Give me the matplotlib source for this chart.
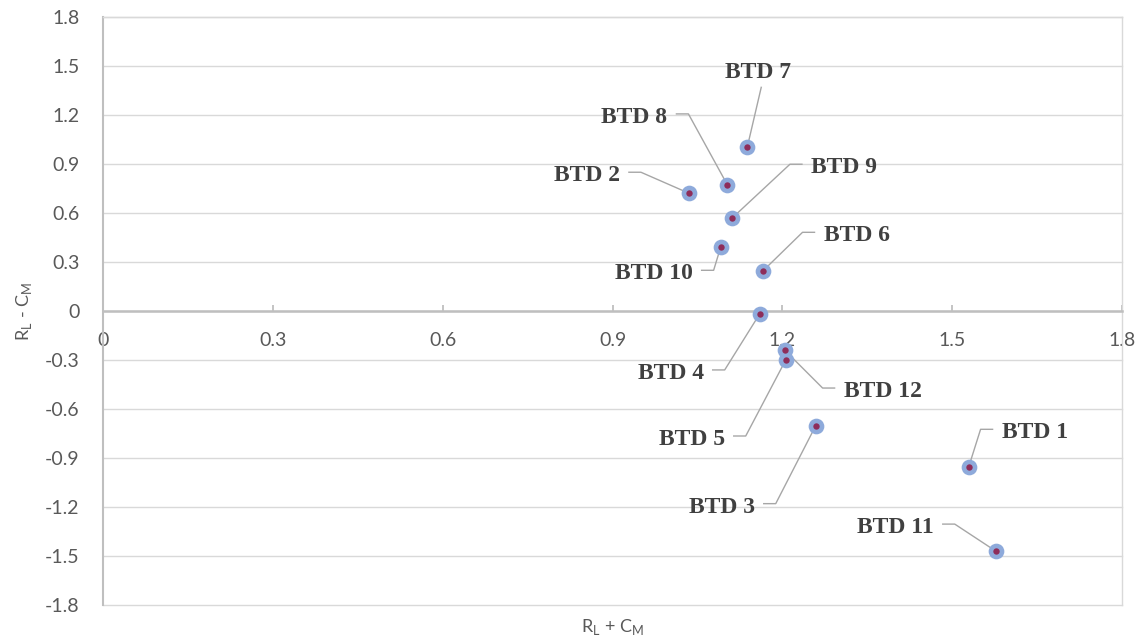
import numpy as np
import matplotlib
matplotlib.use("Agg")
import matplotlib.pyplot as plt
from matplotlib.lines import Line2D
from matplotlib.transforms import IdentityTransform

plt.rcParams['font.family'] = ['Lato', 'DejaVu Sans']
plt.rcParams['mathtext.fontset'] = 'custom'
plt.rcParams['mathtext.rm'] = 'Lato'
plt.rcParams['axes.unicode_minus'] = False

# --- data
names = ["BTD 1", "BTD 2", "BTD 3", "BTD 4", "BTD 5", "BTD 6",
         "BTD 7", "BTD 8", "BTD 9", "BTD 10", "BTD 11", "BTD 12"]
rl_plus_cm = [1.529, 1.035, 1.259, 1.160, 1.206, 1.165,
              1.138, 1.103, 1.111, 1.091, 1.577, 1.204]
rl_minus_cm = [-0.957, 0.721, -0.702, -0.018, -0.300, 0.243,
               1.002, 0.772, 0.568, 0.390, -1.470, -0.239]

x_ticks = [0, 0.3, 0.6, 0.9, 1.2, 1.5, 1.8]
y_ticks = [-1.8, -1.5, -1.2, -0.9, -0.6, -0.3, 0, 0.3, 0.6, 0.9, 1.2, 1.5, 1.8]

# --- label placement: pixel offset of text anchor from point (dx, dy down), alignment
label_pos = [(33, -37, 'left'), (-69, -20, 'right'), (-61, 79, 'right'),
             (-56, 57, 'right'), (-61, 77, 'right'), (61, -38, 'left'),
             (11, -77, 'center'), (-60, -70, 'right'), (79, -53, 'left'),
             (-28, 24, 'right'), (-62, -26, 'right'), (59, 39, 'left')]

grid_col = '#d9d9d9'
axis_col = '#bfbfbf'
text_col = '#595959'
lead_col = '#a6a6a6'

fig = plt.figure(figsize=(11.43, 6.41), dpi=100)
ax = fig.add_axes([103 / 1143, 1 - 605 / 641, (1122 - 103) / 1143, (605 - 17) / 641])

ax.set_xlim(0, 1.8)
ax.set_ylim(-1.8, 1.8)
ax.set_xticks(x_ticks)
ax.set_xticklabels([f"{t:g}" for t in x_ticks])
ax.set_yticks(y_ticks)
ax.set_yticklabels([f"{t:g}" for t in y_ticks])

ax.grid(axis='y', color=grid_col, lw=1)
ax.grid(axis='x', visible=False)
for gl in ax.get_ygridlines():
    gl.set_clip_on(False)
ax.set_axisbelow(True)

ax.spines['bottom'].set_position(('data', 0))
ax.spines['bottom'].set_color(axis_col)
ax.spines['bottom'].set_linewidth(1.8)
ax.spines['left'].set_color(axis_col)
ax.spines['left'].set_linewidth(1.5)
ax.spines['top'].set_color(grid_col)
ax.spines['right'].set_color(grid_col)
ax.spines['top'].set_linewidth(1)
ax.spines['right'].set_linewidth(1)

ax.tick_params(axis='x', direction='in', length=4.5, width=1.3, color=axis_col,
               pad=15, labelsize=14, labelcolor=text_col)
ax.tick_params(axis='y', length=0, pad=17, labelsize=14, labelcolor=text_col)

ax.set_xlabel(r'R$_\mathrm{L}$ + C$_\mathrm{M}$', fontsize=13, color=text_col)
ax.xaxis.set_label_coords(0.5, -0.02)
ax.set_ylabel(r'R$_\mathrm{L}$ - C$_\mathrm{M}$', fontsize=13, color=text_col)
ax.yaxis.set_label_coords(-0.068, 0.5)

# --- points
ax.plot(rl_plus_cm, rl_minus_cm, 'o', ms=11.3, mew=0, color='#8eaadb', zorder=4)
ax.plot(rl_plus_cm, rl_minus_cm, 'o', ms=4.6, mew=0, color='#8e2d5a', zorder=5)

# --- labels with leader lines
for name, x, y, (dx, dy, ha) in zip(names, rl_plus_cm, rl_minus_cm, label_pos):
    ax.annotate(name, xy=(x, y), xytext=(dx, -dy - 8), textcoords='offset pixels',
                ha=ha, va='baseline', fontsize=17, fontweight='bold',
                family='Liberation Serif', color='#404040', zorder=6)
    px, py = ax.transData.transform((x, y))
    if ha == 'center':
        pts = [(dx + 3, dy + 17)]
    elif ha == 'right':
        pts = [(dx + 9, dy - 1), (dx + 21, dy - 1)]
    else:
        pts = [(dx - 9, dy - 1), (dx - 21, dy - 1)]
    pts.append((0, 0))
    xs = [px + p[0] for p in pts]
    ys = [py - p[1] for p in pts]
    ax.add_line(Line2D(xs, ys, transform=IdentityTransform(), color=lead_col,
                       lw=1.0, zorder=3))

fig.savefig("out.png", dpi=100)
